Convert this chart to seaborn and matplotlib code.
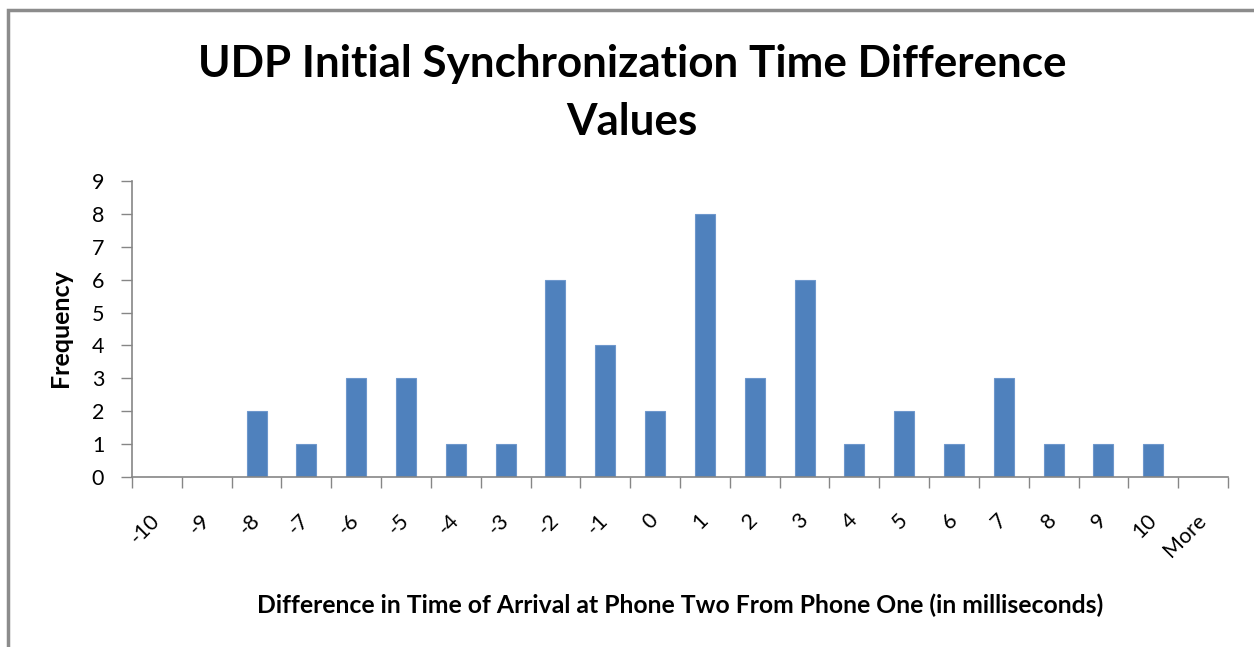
import matplotlib
matplotlib.use("Agg")
import matplotlib.pyplot as plt
import seaborn as sns
import pandas as pd
from matplotlib.patches import Rectangle

categories = ["-10", "-9", "-8", "-7", "-6", "-5", "-4", "-3", "-2", "-1", "0",
              "1", "2", "3", "4", "5", "6", "7", "8", "9", "10", "More"]
frequency = [0, 0, 2, 1, 3, 3, 1, 1, 6, 4, 2, 8, 3, 6, 1, 2, 1, 3, 1, 1, 1, 0]
y_ticks = list(range(0, 10))

title = "UDP Initial Synchronization Time Difference\nValues"
x_label = "Difference in Time of Arrival at Phone Two From Phone One (in milliseconds)"
y_label = "Frequency"

sns.set_theme(style="white")
plt.rcParams["font.family"] = ["Lato", "DejaVu Sans"]
plt.rcParams["text.color"] = "black"
plt.rcParams["xtick.color"] = "black"
plt.rcParams["ytick.color"] = "black"

df = pd.DataFrame({"cat": categories, "freq": frequency})

fig = plt.figure(figsize=(12.54, 6.47), dpi=100)
ax = fig.add_axes([132 / 1254, 1 - 477 / 647, (1228 - 132) / 1254, (477 - 181) / 647])

sns.barplot(data=df, x="cat", y="freq", order=categories, color="#4F81BD",
            saturation=1, width=0.4, edgecolor="#6E97CC", linewidth=0.8, ax=ax)

grey = "#868686"
ax.set_xlim(-0.5, len(categories) - 0.5)
ax.set_ylim(0, 9)
ax.set_yticks(y_ticks)
ax.set_yticklabels([str(v) for v in y_ticks], fontsize=15.5)
ax.set_xticks(range(len(categories)))
ax.set_xticklabels(categories, fontsize=15.5, rotation=45, ha="right", va="center",
                   rotation_mode="anchor")
ax.tick_params(axis="x", length=0, pad=29, labelcolor="black")
ax.tick_params(axis="y", length=8, width=1, color=grey, direction="out", pad=12,
               left=True, labelcolor="black")
# category boundary ticks
ax.set_xticks([i - 0.5 for i in range(len(categories) + 1)], minor=True)
ax.tick_params(axis="x", which="minor", length=8, width=1, color=grey, direction="out", bottom=True)

for s in ["top", "right"]:
    ax.spines[s].set_visible(False)
for s in ["left", "bottom"]:
    ax.spines[s].set_color(grey)
    ax.spines[s].set_linewidth(1.2)

ax.set_xlabel("")
ax.set_ylabel("")
fig.text(60 / 1254, 1 - 328 / 647, y_label, rotation=90, ha="center", va="center",
         fontsize=18, fontweight="bold")
fig.text(680 / 1254, 1 - 605 / 647, x_label, ha="center", va="center",
         fontsize=17.8, fontweight="bold")
fig.text(632 / 1254, 1 - 93 / 647, title, ha="center", va="center",
         fontsize=31.7, fontweight="bold", linespacing=1.55)

fig.patches.append(Rectangle((8 / 1254, -0.1), 1.2, 1 - 10 / 647 + 0.1,
                             transform=fig.transFigure, fill=False,
                             edgecolor="#8C8C8C", linewidth=2.5))

fig.savefig("out.png", dpi=100)
